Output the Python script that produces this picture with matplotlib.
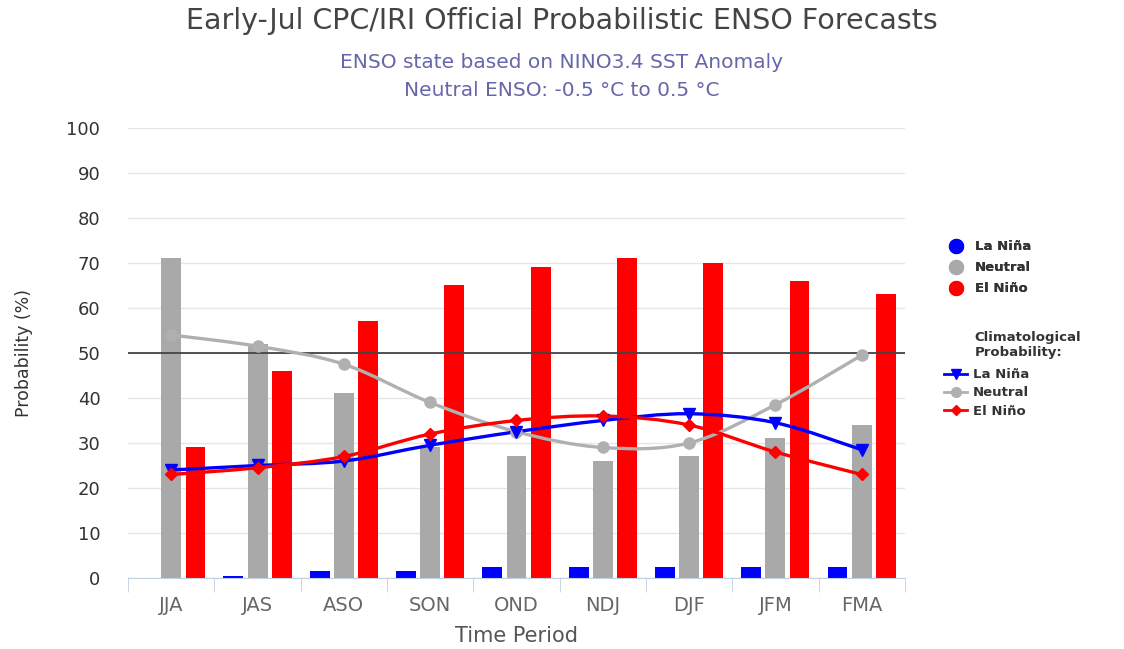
import numpy as np
import matplotlib.pyplot as plt
from matplotlib.path import Path
from matplotlib.patches import PathPatch
from matplotlib.lines import Line2D

# Data
seasons = ['JJA', 'JAS', 'ASO', 'SON', 'OND', 'NDJ', 'DJF', 'JFM', 'FMA']
lanina = [0, 0.5, 1.5, 1.5, 2.5, 2.5, 2.5, 2.5, 2.5]
neutral = [71, 52, 41, 29, 27, 26, 27, 31, 34]
elnino = [29, 46, 57, 65, 69, 71, 70, 66, 63]

clim_lanina = [24, 25, 26, 29.5, 32.5, 35, 36.5, 34.5, 28.5]
clim_neutral = [54, 51.5, 47.5, 39, 32.5, 29, 30, 38.5, 49.5]
clim_elnino = [23, 24.5, 27, 32, 35, 36, 34, 28, 23]

c_blue = '#0000ff'
c_gray = '#a9a9a9'
c_red = '#ff0000'
c_gray_line = '#b0b0b0'

plt.rcParams['font.family'] = ['DejaVu Sans']

fig = plt.figure(figsize=(11.24, 6.49), dpi=100)
ax = fig.add_axes([0.114, 0.1094, 0.691, 0.6934])

x = np.arange(len(seasons))
w = 0.23
off = 0.28
ax.bar(x - off, lanina, w, color=c_blue, zorder=2)
ax.bar(x, neutral, w, color=c_gray, zorder=2)
ax.bar(x + off, elnino, w, color=c_red, zorder=2)


def smooth_line(ax, xs, ys, color, marker, ms):
    # Catmull-Rom through the points, drawn as cubic Bezier segments
    pts = np.column_stack([xs, ys]).astype(float)
    n = len(pts)
    verts = [pts[0]]
    codes = [Path.MOVETO]
    for i in range(n - 1):
        p0 = pts[i - 1] if i > 0 else pts[i]
        p1 = pts[i]
        p2 = pts[i + 1]
        p3 = pts[i + 2] if i + 2 < n else pts[i + 1]
        c1 = p1 + (p2 - p0) / 6
        c2 = p2 - (p3 - p1) / 6
        verts += [c1, c2, p2]
        codes += [Path.CURVE4] * 3
    ax.add_patch(PathPatch(Path(verts, codes), fill=False, ec=color, lw=2.4, zorder=4))
    ax.plot(xs, ys, ls='', marker=marker, color=color, ms=ms, zorder=5)


smooth_line(ax, x, clim_neutral, c_gray_line, 'o', 8)
smooth_line(ax, x, clim_lanina, c_blue, 'v', 8)
smooth_line(ax, x, clim_elnino, c_red, 'D', 6)

ax.axhline(50, color='#444444', lw=1.3, zorder=3)

ax.set_xlim(-0.5, len(seasons) - 0.5)
ax.set_ylim(0, 100)
ax.set_yticks(range(0, 101, 10))
ax.grid(axis='y', color='#e6e6e6', lw=1, zorder=0)
ax.set_axisbelow(True)
for s in ['top', 'right', 'left']:
    ax.spines[s].set_visible(False)
ax.spines['bottom'].set_color('#c0d0e0')
ax.tick_params(axis='y', length=0, labelsize=13, labelcolor='#333333', pad=20)
ax.set_xticks(x)
ax.set_xticklabels(seasons)
ax.set_xticks(np.arange(-0.5, len(seasons), 1), minor=True)
ax.tick_params(axis='x', which='major', length=0, labelsize=14, labelcolor='#666666', pad=13)
ax.tick_params(axis='x', which='minor', length=10, color='#c0d0e0')
ax.set_xlabel('Time Period', fontsize=15, color='#555555', labelpad=8)
ax.set_ylabel('Probability (%)', fontsize=12.5, color='#333333', labelpad=24)

fig.text(0.5, 0.967, 'Early-Jul CPC/IRI Official Probabilistic ENSO Forecasts',
         ha='center', va='center', fontsize=20.5, color='#444444')
fig.text(0.5, 0.903, 'ENSO state based on NINO3.4 SST Anomaly',
         ha='center', va='center', fontsize=14.5, color='#6666aa')
fig.text(0.5, 0.861, 'Neutral ENSO: -0.5 \u00b0C to 0.5 \u00b0C',
         ha='center', va='center', fontsize=14.5, color='#6666aa')

h1 = [Line2D([], [], ls='', marker='o', ms=10, color=c) for c in (c_blue, c_gray, c_red)]
leg1 = fig.legend(h1, ['La Ni\u00f1a', 'Neutral', 'El Ni\u00f1o'], loc='upper left',
                  bbox_to_anchor=(0.833, 0.648), frameon=False, handlelength=1.2,
                  handletextpad=0.8, labelspacing=0.6, prop={'weight': 'bold', 'size': 9.5})
fig.add_artist(leg1)
h2 = [Line2D([], [], color=c_blue, marker='v', ms=7, lw=2),
      Line2D([], [], color=c_gray_line, marker='o', ms=7, lw=2),
      Line2D([], [], color=c_red, marker='D', ms=5, lw=2)]
leg2 = fig.legend(h2, ['La Ni\u00f1a', 'Neutral', 'El Ni\u00f1o'], loc='upper left',
                  bbox_to_anchor=(0.829, 0.451), frameon=False, handlelength=1.8,
                  handletextpad=0.4, labelspacing=0.4, prop={'weight': 'bold', 'size': 9.5})
fig.text(0.867, 0.468, 'Climatological\nProbability:', ha='left', va='center',
         fontsize=9.5, fontweight='bold', color='#333333', linespacing=1.2)
for t in leg1.get_texts() + leg2.get_texts():
    t.set_color('#333333')

fig.savefig('out.png', dpi=100)
